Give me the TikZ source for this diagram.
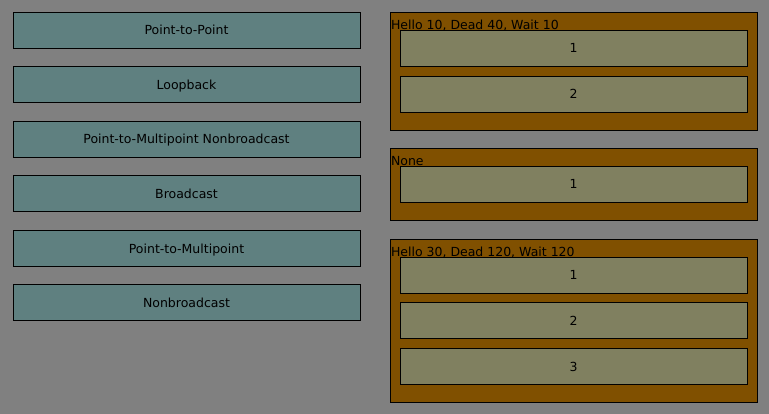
\documentclass[tikz,border=0pt]{standalone}
\usepackage{fontspec}
\setmainfont{DejaVu Sans}
\definecolor{bggray}{RGB}{128,128,128}
\definecolor{typeteal}{RGB}{95,128,128}
\definecolor{groupbrown}{RGB}{128,80,0}
\definecolor{slotolive}{RGB}{128,128,96}

\begin{document}
\begin{tikzpicture}
  [x=1pt,y=-1pt,line width=0.8pt,
   every node/.style={font=\fontsize{12.5}{14}\selectfont,text=black,inner sep=0pt},
   typebox/.style={draw=black,fill=typeteal,minimum width=347pt,minimum height=36pt,
     text height=10pt,text depth=0pt},
   group/.style={draw=black,fill=groupbrown,minimum width=367pt},
   slot/.style={draw=black,fill=slotolive,minimum width=347pt,minimum height=36pt,
     text height=10pt,text depth=0pt},
   hdr/.style={anchor=base west,inner sep=1pt}]
  \fill[bggray] (0,0) rectangle (769,414);

  % network types
  \node[typebox] (T1) at (186.5,30)  {Point-to-Point};
  \node[typebox] (T2) at (186.5,84.5) {Loopback};
  \node[typebox] (T3) at (186.5,139) {Point-to-Multipoint Nonbroadcast};
  \node[typebox] (T4) at (186.5,193.5) {Broadcast};
  \node[typebox] (T5) at (186.5,248.5) {Point-to-Multipoint};
  \node[typebox] (T6) at (186.5,302.5) {Nonbroadcast};

  % timer groups
  \node[group,minimum height=118pt] (G1) at (573.5,71)    {};
  \node[group,minimum height=72pt]  (G2) at (573.5,184)   {};
  \node[group,minimum height=163pt] (G3) at (573.5,320.5) {};

  \node[hdr] (H1) at ([yshift=-17.5pt]G1.north west) {Hello 10, Dead 40, Wait 10};
  \node[hdr] (H2) at ([yshift=-17.5pt]G2.north west) {None};
  \node[hdr] (H3) at ([yshift=-17.5pt]G3.north west) {Hello 30, Dead 120, Wait 120};

  \foreach \name/\y/\lbl in {S11/48/1,S12/94/2,S21/184/1,S31/275/1,S32/320.5/2,S33/366.5/3}
    \node[slot] (\name) at (573.5,\y) {\lbl};

\end{tikzpicture}
\end{document}
